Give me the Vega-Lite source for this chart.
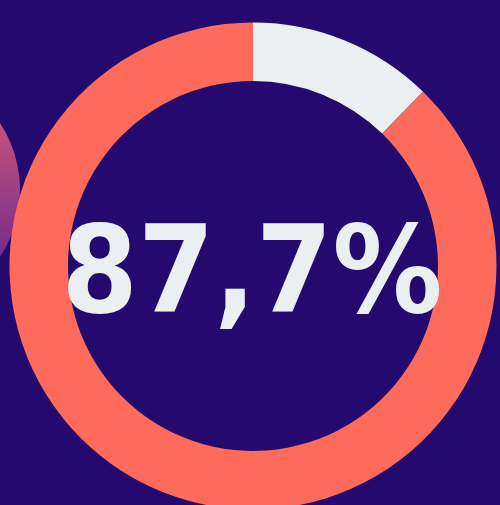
{
  "$schema": "https://vega.github.io/schema/vega-lite/v6.json",
  "width": 494,
  "height": 478,
  "autosize": "none",
  "padding": {"left": 6, "top": 27, "right": 0, "bottom": 0},
  "background": "#240a6e",
  "config": {"view": {"stroke": null}},
  "layer": [
    {
      "data": {"values": [{"x": -108, "y": 163}]},
      "mark": {
        "type": "point",
        "shape": "circle",
        "filled": true,
        "opacity": 1,
        "size": 59536,
        "fill": {
          "gradient": "linear",
          "x1": 0, "y1": 0, "x2": 0, "y2": 1,
          "stops": [
            {"offset": 0.2, "color": "#c8547a"},
            {"offset": 0.8, "color": "#722a8c"}
          ]
        }
      },
      "encoding": {
        "x": {"field": "x", "type": "quantitative", "scale": {"domain": [0, 494], "nice": false, "zero": false}, "axis": null},
        "y": {"field": "y", "type": "quantitative", "scale": {"domain": [0, 478], "nice": false, "zero": false, "reverse": true}, "axis": null}
      }
    },
    {
      "data": {"values": [
        {"part": "rest", "value": 12.3, "o": 1},
        {"part": "share", "value": 87.7, "o": 2}
      ]},
      "mark": {"type": "arc", "innerRadius": 185, "outerRadius": 243.5},
      "encoding": {
        "theta": {"field": "value", "type": "quantitative", "stack": true},
        "order": {"field": "o", "type": "quantitative"},
        "color": {"field": "part", "type": "nominal", "scale": {"domain": ["rest", "share"], "range": ["#eceff2", "#ff6b5b"]}, "legend": null}
      }
    },
    {
      "data": {"values": [{"label": "87,7%"}]},
      "mark": {
        "type": "text",
        "font": "DejaVu Sans Condensed, Liberation Sans Narrow, sans-serif",
        "fontWeight": "bold",
        "fontSize": 122,
        "baseline": "alphabetic",
        "align": "center",
        "dy": 46,
        "dx": -1,
        "color": "#eceff2"
      },
      "encoding": {"text": {"field": "label", "type": "nominal"}}
    }
  ]
}
